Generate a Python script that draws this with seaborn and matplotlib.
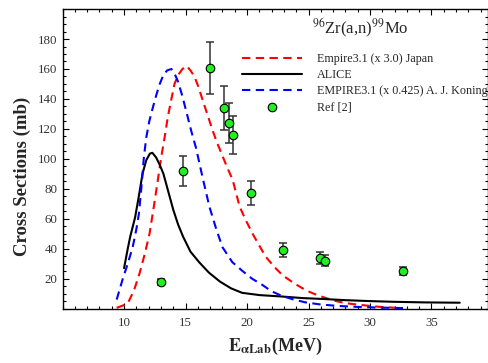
import numpy as np
import pandas as pd
import matplotlib
matplotlib.use("Agg")
import matplotlib.pyplot as plt
import seaborn as sns

# ALICE curve (solid black)
alice_e = [10.0, 10.3, 10.5, 10.9, 11.2, 11.5, 11.8, 12.1, 12.3, 12.6, 12.9, 13.2, 13.6, 14.0, 14.4,
           14.8, 15.4, 16.1, 16.9, 17.8, 18.7, 19.6, 21.0, 22.9, 24.5, 26.4, 28.0, 29.9, 32.0, 34.5, 37.3]
alice_xs = [27, 40, 48, 61, 75, 90, 99, 103.5, 104, 101, 96, 90, 78, 66, 56,
            48, 38, 31, 24, 18, 13.5, 10.5, 9, 8, 7, 6.3, 5.6, 5, 4.5, 4.1, 3.9]

# Empire3.1 (x 3.0) Japan (red dashed)
japan_e = [9.4, 9.9, 10.3, 10.8, 11.26, 11.7, 12.07, 12.4, 12.75, 13.02, 13.29, 13.56, 13.85, 14.1, 14.4,
           14.75, 15.1, 15.4, 15.72, 16.05, 16.4, 16.8, 17.2, 17.55, 17.9, 18.4, 18.83, 19.4, 19.9, 20.45,
           21.0, 21.53, 22.2, 22.88, 23.8, 24.77, 25.4, 26.1, 26.8, 27.47, 28.4, 29.36, 30.7, 32.1]
japan_xs = [0.5, 2, 3.5, 12, 23.5, 37, 50, 67, 86, 101, 114, 128, 140, 150, 156,
            160, 162, 159, 155, 148, 139, 129, 119, 111, 104, 94, 86, 68, 59, 50,
            42, 34.5, 28, 22.3, 17, 12.3, 10, 7.9, 6, 4.5, 3.2, 2.3, 1.2, 0.5]

# EMPIRE3.1 (x 0.425) A. J. Koning (blue dashed)
koning_e = [9.4, 9.9, 10.3, 10.7, 11.0, 11.2, 11.4, 11.6, 11.8, 12.05, 12.3, 12.6, 12.9, 13.2, 13.5,
            13.85, 14.1, 14.37, 14.7, 15.05, 15.45, 15.86, 16.4, 16.94, 17.5, 18.0, 18.8, 19.64, 20.4,
            21.26, 22.0, 22.88, 23.8, 24.77, 26.0, 27.47, 29.0, 30.5, 32.8]
koning_xs = [6, 20, 30, 41, 53, 63, 80, 100, 114, 125, 133, 142, 150, 156, 159,
             160, 157, 152, 143, 132, 119, 107, 87, 68, 53, 41, 31, 25, 20,
             15.7, 11.5, 8.3, 6, 4.1, 2.7, 1.7, 1.1, 0.7, 0.3]

# Ref [2] measurements
ref_e = [13.0, 14.8, 16.95, 18.1, 18.55, 18.85, 20.35, 22.95, 25.95, 26.35, 32.7]
ref_xs = [18, 92, 160.5, 134, 124, 116, 77, 39, 34, 32, 25]
ref_err = [2, 10, 17.5, 14.5, 13.5, 12.5, 8, 4.5, 4, 3.5, 2.5]

sns.set_style("ticks")
plt.rcParams["font.family"] = ["Liberation Serif", "DejaVu Serif"]
plt.rcParams["mathtext.fontset"] = "stix"

fig = plt.figure(figsize=(4.89, 3.63), dpi=100)
ax = fig.add_axes([0.128, 0.150, 0.870, 0.825])

lw = 1.5
sns.lineplot(x=japan_e, y=japan_xs, ax=ax, color="#ff0000", lw=lw,
             label="Empire3.1 (x 3.0) Japan")
sns.lineplot(x=alice_e, y=alice_xs, ax=ax, color="black", lw=lw, label="ALICE")
sns.lineplot(x=koning_e, y=koning_xs, ax=ax, color="#0000ff", lw=lw,
             label="EMPIRE3.1 (x 0.425) A. J. Koning")
ax.lines[0].set_dashes((4, 2.6))
ax.lines[2].set_dashes((4, 2.6))

ax.errorbar(ref_e, ref_xs, yerr=ref_err, fmt="none", ecolor="#333333", elinewidth=1.1,
            capsize=3.2, capthick=1.1, zorder=3)
sns.scatterplot(x=ref_e, y=ref_xs, ax=ax, color="#22ee22", edgecolor="black", linewidth=0.8,
                s=38, zorder=4, label="Ref [2]")

ax.set_xlim(5, 39.6)
ax.set_ylim(0, 200)
ax.set_xticks([10, 15, 20, 25, 30, 35])
ax.set_yticks([20, 40, 60, 80, 100, 120, 140, 160, 180])
ax.set_xticks(np.arange(5, 40, 1), minor=True)
ax.set_yticks(np.arange(0, 200, 5), minor=True)
ax.tick_params(which="both", direction="in", top=True, right=True, colors="black",
               labelcolor="#333333", labelsize=9.3, width=0.8)
ax.tick_params(which="major", length=4.5)
ax.tick_params(axis="x", pad=6)
ax.tick_params(which="minor", length=2.5)
for s in ax.spines.values():
    s.set_linewidth(1.0)
    s.set_color("black")

ax.set_ylabel("Cross Sections (mb)", fontsize=13.5, fontweight="bold")
ax.yaxis.set_label_coords(-0.075, 0.442)
ax.set_xlabel(r"$\mathbf{E_{\alpha Lab}}$(MeV)", fontsize=13, fontweight="bold")
ax.xaxis.set_label_coords(0.50, -0.09)

ax.text(0.699, 0.937, r"$^{96}$Zr(a,n)$^{99}$Mo", transform=ax.transAxes, fontsize=12,
        ha="center", va="center")

leg = ax.legend(loc="upper left", bbox_to_anchor=(0.4216, 0.852), frameon=False, fontsize=8.7,
                handlelength=5, handletextpad=1.2, labelspacing=0.33, borderpad=0,
                borderaxespad=0, scatterpoints=1)

fig.savefig("out.png", dpi=100)
